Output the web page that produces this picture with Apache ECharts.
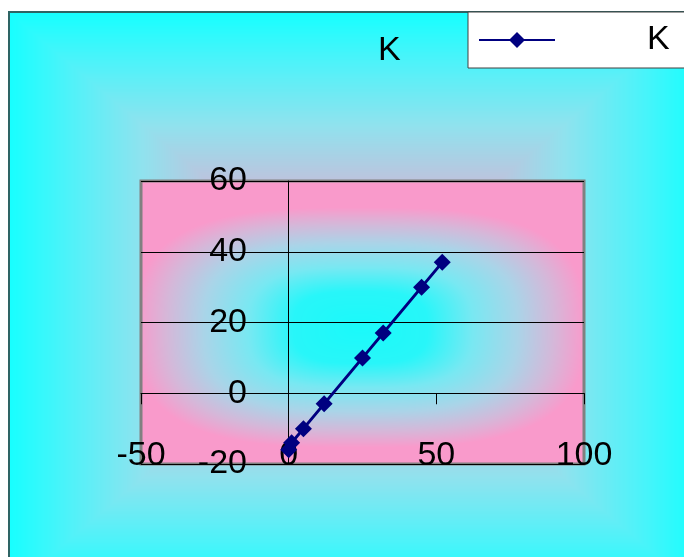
<!DOCTYPE html>
<html>
<head>
<meta charset="utf-8">
<script src="https://cdn.jsdelivr.net/npm/echarts@6/dist/echarts.min.js"></script>
<style>
  html, body { margin: 0; padding: 0; background: #ffffff; }
  #chart { width: 684px; height: 557px; }
</style>
</head>
<body>
<div id="chart"></div>
<script>
// Series "K": x / y pairs
const kX = [0, 1, 5, 12, 25, 32, 45, 52];
const kY = [-16, -14, -10, -3, 10, 17, 30, 37];

// Axis ranges and tick steps
const xMin = -50, xMax = 100, xStep = 50;
const yMin = -20, yMax = 60, yStep = 20;

const seriesName = 'K';
const titleText = 'K';

// ---- layout ----
const W = 684, H = 557;
const plot = { left: 141, top: 181, right: 584, bottom: 464 };
const frame = { left: 8, top: 12, right: 698, bottom: 590 };
const FONT = '"Liberation Sans", Arial, sans-serif';
const FS = 34;

// ---- shaded backdrop painted once into an offscreen canvas ----
function lerpStops(stops, t) {
  if (t <= stops[0][0]) return stops[0][1];
  for (let i = 1; i < stops.length; i++) {
    if (t <= stops[i][0]) {
      const a = stops[i - 1], b = stops[i];
      const f = (t - a[0]) / (b[0] - a[0]);
      return [0, 1, 2].map(k => a[1][k] + (b[1][k] - a[1][k]) * f);
    }
  }
  return stops[stops.length - 1][1];
}
// chart area: cyan at the border, turning lavender toward the middle
const outerStops = [
  [0.00, [22, 255, 255]],
  [0.18, [80, 242, 249]],
  [0.39, [144, 226, 238]],
  [0.58, [188, 196, 222]],
  [1.00, [240, 160, 206]]
];
// plot area: cyan in the middle, pink toward the edges
const innerStops = [
  [0.00, [26, 250, 250]],
  [0.30, [40, 246, 249]],
  [0.50, [120, 232, 242]],
  [0.70, [170, 212, 232]],
  [0.86, [212, 184, 217]],
  [1.00, [249, 154, 203]]
];

const bg = document.createElement('canvas');
bg.width = W; bg.height = H;
(function paint() {
  const ctx = bg.getContext('2d');
  const img = ctx.createImageData(W, H);
  const d = img.data;
  const ocx = (frame.left + frame.right) / 2, ocy = (frame.top + frame.bottom) / 2;
  const ohw = (frame.right - frame.left) / 2, ohh = (frame.bottom - frame.top) / 2;
  const icx = 360, icy = 327, iax = 224, iay = 120, p = 3;
  for (let y = 0; y < H; y++) {
    for (let x = 0; x < W; x++) {
      let c;
      if (x < frame.left || y < frame.top) {
        c = [255, 255, 255];
      } else if (x >= plot.left && x <= plot.right && y >= plot.top && y <= plot.bottom) {
        const r = Math.pow(Math.pow(Math.abs(x - icx) / iax, p) + Math.pow(Math.abs(y - icy) / iay, p), 1 / p);
        c = lerpStops(innerStops, r);
      } else {
        const u = 1 - Math.abs(x - ocx) / ohw;
        const v = 1 - Math.abs(y - ocy) / ohh;
        c = lerpStops(outerStops, Math.max(0, Math.min(u, v)));
      }
      const i = (y * W + x) * 4;
      d[i] = c[0]; d[i + 1] = c[1]; d[i + 2] = c[2]; d[i + 3] = 255;
    }
  }
  ctx.putImageData(img, 0, 0);
  // frame edge
  ctx.fillStyle = '#2e6464';
  ctx.fillRect(frame.left, frame.top - 1, W - frame.left, 2);
  ctx.fillRect(frame.left, frame.top - 1, 2, H - frame.top + 1);
})();

const chart = echarts.init(document.getElementById('chart'));
chart.setOption({
  animation: false,
  graphic: {
    elements: [{
      type: 'image', z: -100, zlevel: 0, silent: true,
      style: { image: bg, x: 0, y: 0, width: W, height: H }
    }]
  },
  title: {
    text: titleText,
    left: 378, top: 34, padding: 0,
    textStyle: { fontFamily: FONT, fontSize: FS, fontWeight: 'normal', color: '#000' }
  },
  legend: {
    data: [seriesName],
    left: 468, top: 12,
    padding: [11, 40, 11, 10],
    backgroundColor: '#ffffff',
    borderColor: '#404040', borderWidth: 1,
    itemWidth: 76, itemHeight: 20,
    textStyle: { fontFamily: FONT, fontSize: FS, color: '#000', padding: [0, 0, 0, 87], lineHeight: 33 }
  },
  grid: {
    left: plot.left, top: plot.top,
    width: plot.right - plot.left, height: plot.bottom - plot.top,
    show: true, borderColor: '#808080', borderWidth: 3, backgroundColor: 'transparent'
  },
  xAxis: {
    type: 'value', min: xMin, max: xMax, interval: xStep, z: 3,
    axisLine: { show: true, onZero: true, lineStyle: { color: '#000', width: 1 } },
    axisTick: { show: true, length: 11, lineStyle: { color: '#000', width: 1 } },
    axisLabel: {
      show: true, margin: -25, showMinLabel: true, showMaxLabel: true,
      fontFamily: FONT, fontSize: FS, color: '#000', lineHeight: 34
    },
    splitLine: { show: false }
  },
  yAxis: {
    type: 'value', min: yMin, max: yMax, interval: yStep, z: 3,
    axisLine: { show: true, onZero: true, lineStyle: { color: '#000', width: 1 } },
    axisTick: { show: true, length: 12, lineStyle: { color: '#000', width: 1 } },
    axisLabel: {
      show: true, margin: -106, showMinLabel: true, showMaxLabel: true,
      fontFamily: FONT, fontSize: FS, color: '#000'
    },
    splitLine: { show: true, lineStyle: { color: '#000', width: 1 } }
  },
  series: [{
    name: seriesName,
    type: 'line',
    data: kX.map((x, i) => [x, kY[i]]),
    symbol: 'diamond', symbolSize: 17,
    itemStyle: { color: '#000080' },
    lineStyle: { color: '#000080', width: 3 },
    z: 5
  }]
});
</script>
</body>
</html>
